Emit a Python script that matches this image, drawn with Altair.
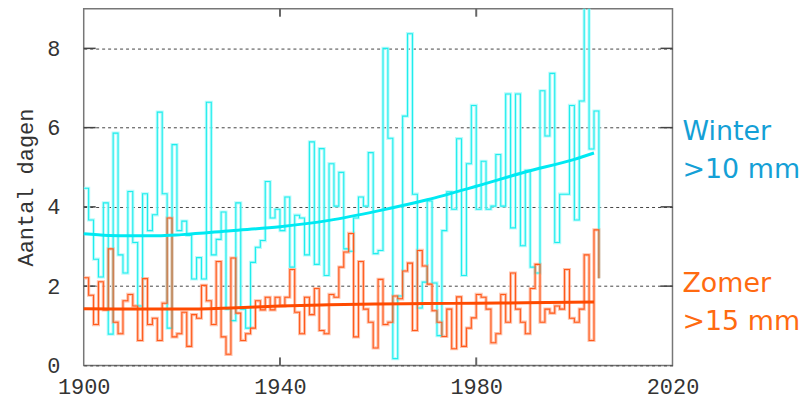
import altair as alt
import pandas as pd

# ---- data ----
jaren = list(range(1900, 2005))
winter = [4.47, 3.67, 2.68, 2.23, 4.10, 0.79, 5.86, 2.79, 2.33, 4.39,
          3.10, 1.50, 4.33, 3.40, 3.80, 6.39, 4.33, 0.94, 5.57, 3.40,
          3.64, 3.28, 2.18, 2.72, 2.18, 6.64, 2.79, 3.18, 3.87, 1.42,
          1.13, 4.10, 1.42, 0.94, 2.60, 2.98, 3.15, 4.64, 3.72, 3.94,
          3.40, 4.25, 2.48, 3.79, 3.72, 2.79, 5.64, 2.55, 5.47, 2.27,
          5.09, 4.02, 4.87, 2.94, 2.88, 3.72, 4.25, 4.02, 5.37, 2.82,
          2.90, 8.00, 5.73, 0.17, 1.75, 6.29, 8.37, 4.32, 1.45, 2.10,
          4.15, 2.08, 0.75, 3.40, 4.38, 3.94, 5.72, 2.27, 5.09, 6.56,
          3.94, 5.15, 3.94, 4.02, 5.32, 4.02, 6.85, 3.47, 6.85, 3.02,
          4.92, 2.48, 2.33, 6.93, 5.79, 7.37, 3.10, 4.32, 4.32, 6.56,
          3.67, 6.67, 9.30, 5.46, 6.42]
zomer = [2.21, 1.77, 1.03, 2.11, 1.40, 2.94, 1.09, 0.80, 1.63, 1.79,
         1.50, 0.63, 2.19, 1.03, 1.19, 0.63, 1.57, 3.72, 0.72, 0.80,
         1.34, 0.48, 1.28, 1.19, 2.02, 1.63, 1.03, 2.62, 0.72, 0.28,
         2.71, 1.32, 0.63, 0.80, 0.94, 1.63, 1.40, 1.72, 1.40, 1.72,
         1.50, 1.72, 2.42, 1.34, 0.80, 1.72, 1.28, 1.94, 0.88, 0.80,
         1.79, 1.72, 2.48, 2.86, 3.33, 0.72, 2.62, 1.42, 1.09, 0.44,
         2.17, 1.03, 1.09, 1.75, 1.68, 2.38, 2.58, 0.88, 2.90, 2.51,
         2.05, 1.38, 1.09, 0.73, 1.42, 0.42, 1.73, 0.48, 0.94, 1.20,
         1.79, 1.72, 1.42, 0.57, 0.80, 1.79, 1.09, 2.33, 1.42, 1.09,
         0.80, 1.94, 2.55, 1.09, 1.42, 1.32, 1.50, 1.42, 2.42, 1.19,
         1.09, 1.42, 2.79, 0.63, 3.42]
eind_jaar = 2005
eind_winter = 2.2
eind_zomer = 2.2

trend_w_jaren = [1900, 1905, 1910, 1915, 1920, 1930, 1940, 1950, 1960, 1970, 1980, 1990, 2000, 2004]
trend_w = [3.32, 3.28, 3.27, 3.27, 3.30, 3.40, 3.50, 3.66, 3.90, 4.18, 4.52, 4.88, 5.20, 5.36]
trend_z_jaren = [1900, 1920, 1930, 1940, 1950, 1960, 1970, 1980, 1990, 2004]
trend_z = [1.43, 1.42, 1.45, 1.50, 1.53, 1.55, 1.56, 1.57, 1.58, 1.60]

x_ticks = [1900, 1940, 1980, 2020]
y_ticks = [0, 2, 4, 6, 8]
inner_x_ticks = [1940, 1980]
inner_y_ticks = [2, 4, 6, 8]
label_winter = ["Winter\n>10 mm"]
label_zomer = ["Zomer\n>15 mm"]

W, H = 591, 358

stap = pd.concat([
    pd.DataFrame({"jaar": jaren + [eind_jaar], "waarde": winter + [eind_winter], "reeks": "winter"}),
    pd.DataFrame({"jaar": jaren + [eind_jaar], "waarde": zomer + [eind_zomer], "reeks": "zomer"}),
])
trend = pd.concat([
    pd.DataFrame({"jaar": trend_w_jaren, "waarde": trend_w, "reeks": "winter"}),
    pd.DataFrame({"jaar": trend_z_jaren, "waarde": trend_z, "reeks": "zomer"}),
])

mono = "Liberation Mono"
x_enc = alt.X("jaar:Q",
              scale=alt.Scale(domain=[1900, 2020], nice=False, zero=False),
              axis=alt.Axis(values=x_ticks, format="d", title=None, labelFont=mono,
                            labelFontSize=22, labelColor="#333", ticks=False, tickSize=0,
                            domain=False, labelPadding=11, grid=False,
                            labelFlush=False, labelOverlap=False))
y_enc = alt.Y("waarde:Q",
              scale=alt.Scale(domain=[0, 9], nice=False),
              axis=alt.Axis(values=y_ticks, title="Aantal dagen", titleFont=mono,
                            titleFontSize=22, titleFontWeight="normal", titleColor="#333",
                            titlePadding=9, labelFont=mono, labelFontSize=22,
                            labelColor="#333", ticks=False, tickSize=0, domain=False,
                            labelPadding=24, grid=True, gridDash=[3, 3],
                            gridColor="#444", gridWidth=1, labelFlush=False))

def step(reeks, color, width, opacity=1.0):
    return alt.Chart(stap).transform_filter(alt.datum.reeks == reeks).mark_line(
        interpolate="step-after", color=color, strokeWidth=width, opacity=opacity,
        clip=True
    ).encode(x=x_enc, y=y_enc)

def trendline(reeks, color):
    return alt.Chart(trend).transform_filter(alt.datum.reeks == reeks).mark_line(
        interpolate="monotone", color=color, strokeWidth=3
    ).encode(x=x_enc, y=y_enc)

yt = pd.DataFrame({"waarde": inner_y_ticks})
xt = pd.DataFrame({"jaar": inner_x_ticks})
tick_l = alt.Chart(yt).mark_rule(color="#444", strokeWidth=1.5).encode(
    y=y_enc, x=alt.value(0), x2=alt.value(12))
tick_r = alt.Chart(yt).mark_rule(color="#444", strokeWidth=1.5).encode(
    y=y_enc, x=alt.value(W - 12), x2=alt.value(W))
tick_t = alt.Chart(xt).mark_rule(color="#666", strokeWidth=2).encode(
    x=x_enc, y=alt.value(0), y2=alt.value(8))
tick_b = alt.Chart(xt).mark_rule(color="#666", strokeWidth=2).encode(
    x=x_enc, y=alt.value(H - 8), y2=alt.value(H))

def label(tekst, color, ypos):
    return alt.Chart(pd.DataFrame({"tekst": tekst})).mark_text(
        align="left", baseline="alphabetic", font="DejaVu Sans", fontSize=27,
        lineBreak="\n", lineHeight=38, color=color
    ).encode(text="tekst:N", x=alt.value(W + 10), y=alt.value(ypos))

chart = alt.layer(
    tick_l, tick_r, tick_t, tick_b,
    step("winter", "#A8FAFA", 3.2, 0.8),
    step("zomer", "#FFB196", 3.2, 0.8),
    step("winter", "#1FEDED", 1.1),
    step("zomer", "#FF5A1A", 1.1),
    trendline("winter", "#00E9F2"),
    trendline("zomer", "#FF4A00"),
    label(label_winter, "#14A0D6", 132),
    label(label_zomer, "#FF6A10", 284),
).properties(
    width=W, height=H,
    autosize=alt.AutoSizeParams(type="none"),
    padding={"left": 76, "top": 0, "right": 130, "bottom": 34},
).configure_view(stroke="#777", strokeWidth=1.5)

chart.save("out.html", embed_options={"renderer": "svg", "actions": False})
